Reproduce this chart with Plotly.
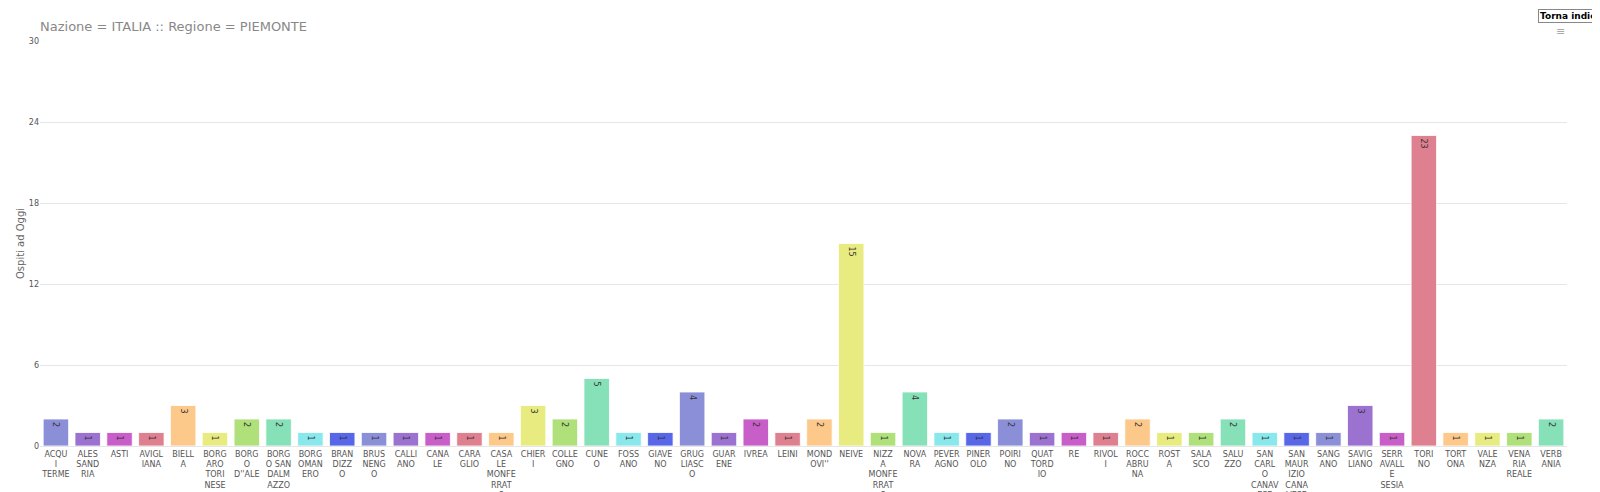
import plotly.graph_objects as go

labels = ["ACQU<br>I<br>TERME","ALES<br>SAND<br>RIA","ASTI","AVIGL<br>IANA","BIELL<br>A","BORG<br>ARO<br>TORI<br>NESE",
"BORG<br>O<br>D''ALE","BORG<br>O SAN<br>DALM<br>AZZO","BORG<br>OMAN<br>ERO","BRAN<br>DIZZ<br>O","BRUS<br>NENG<br>O",
"CALLI<br>ANO","CANA<br>LE","CARA<br>GLIO","CASA<br>LE<br>MONFE<br>RRAT<br>O","CHIER<br>I","COLLE<br>GNO","CUNE<br>O",
"FOSS<br>ANO","GIAVE<br>NO","GRUG<br>LIASC<br>O","GUAR<br>ENE","IVREA","LEINI","MOND<br>OVI''","NEIVE",
"NIZZ<br>A<br>MONFE<br>RRAT<br>O","NOVA<br>RA","PEVER<br>AGNO","PINER<br>OLO","POIRI<br>NO","QUAT<br>TORD<br>IO","RE",
"RIVOL<br>I","ROCC<br>ABRU<br>NA","ROST<br>A","SALA<br>SCO","SALU<br>ZZO","SAN<br>CARL<br>O<br>CANAV<br>ESE",
"SAN<br>MAUR<br>IZIO<br>CANA<br>VESE","SANG<br>ANO","SAVIG<br>LIANO","SERR<br>AVALL<br>E<br>SESIA","TORI<br>NO",
"TORT<br>ONA","VALE<br>NZA","VENA<br>RIA<br>REALE","VERB<br>ANIA"]
values = [2,1,1,1,3,1,2,2,1,1,1,1,1,1,1,3,2,5,1,1,4,1,2,1,2,15,1,4,1,1,2,1,1,1,2,1,1,2,1,1,1,3,1,23,1,1,1,2]
palette = ["#8b8fd8","#9b72d0","#c85ec8","#de8090","#fcc98a","#e8ec80","#b0e07a","#86e0b8","#88e8ec","#5866e8"]

colors = [palette[i % len(palette)] for i in range(len(values))]
x = list(range(len(values)))

fig = go.Figure(go.Bar(
    x=x, y=values, marker=dict(color=colors, line=dict(color="rgba(255,255,255,0.8)", width=1)),
    text=[str(v) for v in values], textposition="inside", insidetextanchor="end",
    textangle=90, textfont=dict(size=8, color="#333"), width=0.8))

fig.update_layout(
    width=1600, height=492, margin=dict(l=32, r=41, t=33, b=54),
    plot_bgcolor="white", paper_bgcolor="white", showlegend=False,
    font=dict(family="DejaVu Sans", color="#555"),
    title=dict(text="Nazione = ITALIA :: Regione = PIEMONTE", x=0.02, xanchor="left",
               y=1 - 18/492, yanchor="middle", font=dict(size=13, color="#888")),
    xaxis=dict(tickmode="array", tickvals=x, ticktext=labels, tickangle=0, automargin=False,
               tickfont=dict(size=8, color="#555"), range=[-0.5, len(values)-0.5],
               showgrid=False, showline=True, linecolor="#e6e6e6", ticks=""),
    yaxis=dict(range=[0, 30], tickvals=[0,6,12,18,24,30], gridcolor="#e6e6e6", automargin=False,
               tickfont=dict(size=8, color="#555"), zeroline=False,
               title=dict(text="Ospiti ad Oggi", font=dict(size=10, color="#666"), standoff=2)),
    uniformtext=dict(minsize=8, mode="show"),
)
fig.add_annotation(text="<b>Torna indietro</b>", xref="paper", yref="paper", x=1.03, y=1.08,
                   xanchor="right", yanchor="top", showarrow=False, font=dict(size=9, color="#000"),
                   bgcolor="white", bordercolor="#888", borderwidth=1, borderpad=1)
fig.add_annotation(text="≡", xref="paper", yref="paper", x=1.0, y=1.045, xanchor="right",
                   yanchor="top", showarrow=False, font=dict(size=11, color="#aaa"))
fig.write_html("out.html")
